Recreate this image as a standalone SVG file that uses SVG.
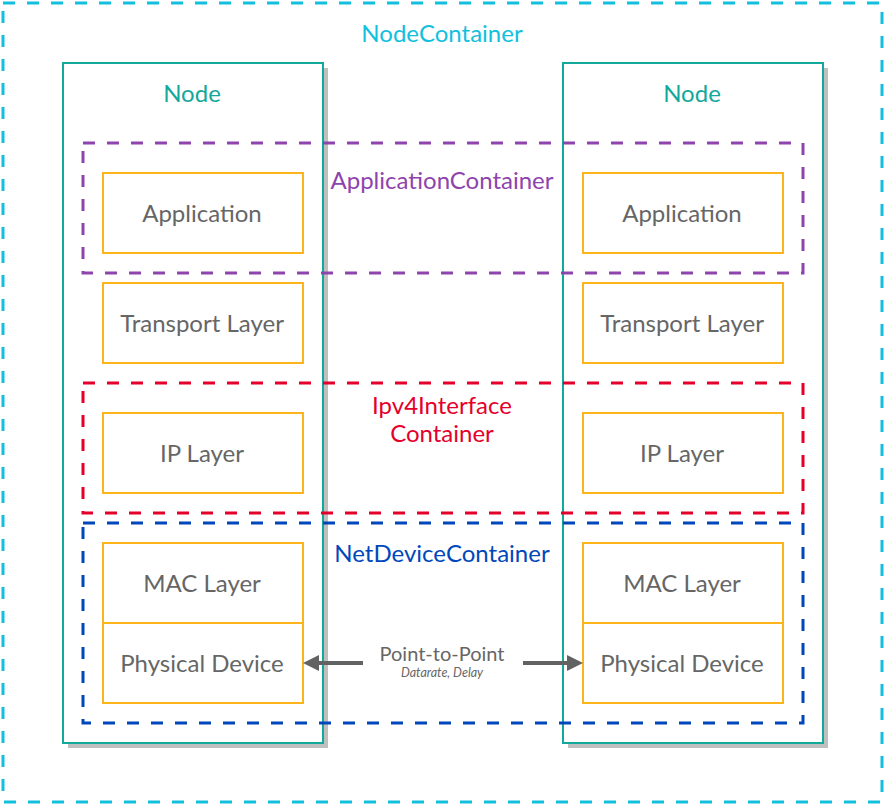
<svg xmlns="http://www.w3.org/2000/svg" width="884" height="804" viewBox="0 0 884 804">
<style>
text{font-family:Lato,"Open Sans","Liberation Sans",sans-serif;text-anchor:middle}
.cont{fill:none;stroke-width:3;stroke-dasharray:12 12}
.node{fill:#ffffff;stroke:#12a89a;stroke-width:2}
.shadow{fill:#bfbfbf}
.layer{fill:#ffffff;stroke:#fbb41a;stroke-width:2}
.lt{font-size:24px;fill:#666666}
.ct{font-size:24px}
.arr{stroke:#626262;stroke-width:4;fill:none}
</style>
<defs>
<marker id="ah" markerUnits="userSpaceOnUse" markerWidth="16" markerHeight="16" refX="0" refY="8" orient="auto">
<path d="M0,0 L16,8 L0,16 z" fill="#626262"/>
</marker>
</defs>
<g id="nodecontainer">
<rect class="cont" x="3" y="3" width="879" height="799" stroke="#12c0de"/>
<text class="ct" x="442" y="42" fill="#12c0de">NodeContainer</text>
</g>
<g id="node-left">
<rect class="shadow" x="68" y="68" width="260" height="680"/>
<rect class="node" x="63" y="63" width="260" height="680"/>
<text class="ct" x="192" y="102" fill="#12a89a">Node</text>
</g>
<g id="node-right">
<rect class="shadow" x="568" y="68" width="260" height="680"/>
<rect class="node" x="563" y="63" width="260" height="680"/>
<text class="ct" x="692" y="102" fill="#12a89a">Node</text>
</g>
<g id="app-left"><rect class="layer" x="103" y="173" width="200" height="80"/><text class="lt" x="202" y="222">Application</text></g>
<g id="app-right"><rect class="layer" x="583" y="173" width="200" height="80"/><text class="lt" x="682" y="222">Application</text></g>
<g id="transport-left"><rect class="layer" x="103" y="283" width="200" height="80"/><text class="lt" x="202" y="332">Transport Layer</text></g>
<g id="transport-right"><rect class="layer" x="583" y="283" width="200" height="80"/><text class="lt" x="682" y="332">Transport Layer</text></g>
<g id="ip-left"><rect class="layer" x="103" y="413" width="200" height="80"/><text class="lt" x="202" y="462">IP Layer</text></g>
<g id="ip-right"><rect class="layer" x="583" y="413" width="200" height="80"/><text class="lt" x="682" y="462">IP Layer</text></g>
<g id="mac-left"><rect class="layer" x="103" y="543" width="200" height="80"/><text class="lt" x="202" y="592">MAC Layer</text></g>
<g id="mac-right"><rect class="layer" x="583" y="543" width="200" height="80"/><text class="lt" x="682" y="592">MAC Layer</text></g>
<g id="phy-left"><rect class="layer" x="103" y="623" width="200" height="80"/><text class="lt" x="202" y="672">Physical Device</text></g>
<g id="phy-right"><rect class="layer" x="583" y="623" width="200" height="80"/><text class="lt" x="682" y="672">Physical Device</text></g>
<g id="applicationcontainer">
<rect class="cont" x="83" y="143" width="720" height="130" stroke="#8e44ad"/>
<text class="ct" x="442" y="189" fill="#8e44ad">ApplicationContainer</text>
</g>
<g id="ipv4interfacecontainer">
<rect class="cont" x="83" y="383" width="720" height="130" stroke="#e4002b"/>
<text class="ct" x="442" y="414" fill="#e4002b">Ipv4Interface</text>
<text class="ct" x="442" y="442" fill="#e4002b">Container</text>
</g>
<g id="netdevicecontainer">
<rect class="cont" x="83" y="523" width="720" height="200" stroke="#0047bb"/>
<text class="ct" x="442" y="562" fill="#0047bb">NetDeviceContainer</text>
</g>
<g id="connectors">
<line class="arr" x1="363" y1="663" x2="319" y2="663" marker-end="url(#ah)"/>
<line class="arr" x1="523" y1="663" x2="567" y2="663" marker-end="url(#ah)"/>
<text x="442" y="661" font-size="20" fill="#666666">Point-to-Point</text>
<text x="442" y="677" font-size="12.5" font-style="italic" fill="#666666">Datarate, Delay</text>
</g>
</svg>
